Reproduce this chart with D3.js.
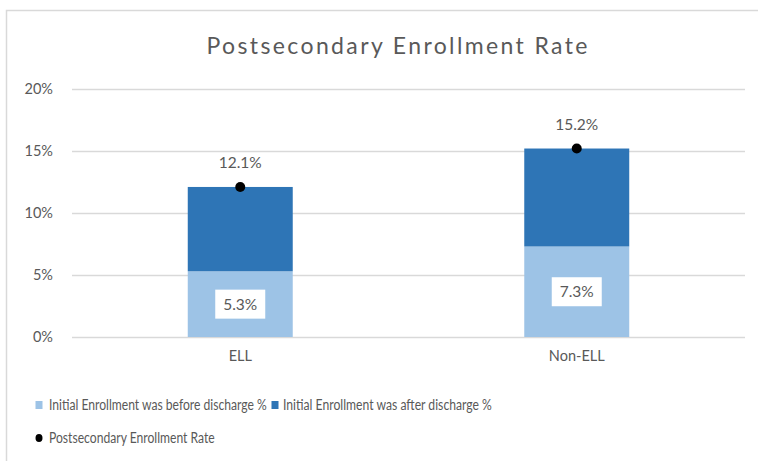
<!DOCTYPE html>
<html>
<head>
<meta charset="utf-8">
<script src="https://cdn.jsdelivr.net/npm/d3@7"></script>
<style>
  html, body { margin: 0; padding: 0; background: #fff; }
  svg { display: block; font-family: Lato, "Open Sans", sans-serif; }
</style>
</head>
<body>
<svg id="chart" width="758" height="461"></svg>
<script>
// Chart data
const categories = ["ELL", "Non-ELL"];
const beforeDischarge = [5.3, 7.3];   // Initial Enrollment was before discharge %
const afterDischarge = [6.8, 7.9];    // Initial Enrollment was after discharge %
const enrollmentRate = [12.1, 15.2];  // Postsecondary Enrollment Rate
const yTicks = [0, 5, 10, 15, 20];
const seriesNames = [
  "Initial Enrollment was before discharge %",
  "Initial Enrollment was after discharge %",
  "Postsecondary Enrollment Rate"
];

const colors = { before: "#9dc3e6", after: "#2e75b6", dot: "#000", text: "#595959", grid: "#d9d9d9" };

const svg = d3.select("#chart");

// outer frame (top and left edges visible)
svg.append("path")
  .attr("d", "M6.5,461 V10.5 H758")
  .attr("fill", "none").attr("stroke", "#d9d9d9").attr("stroke-width", 1.5);

const plot = { left: 72, right: 745, top: 89, bottom: 337 };

const x = d3.scaleBand().domain(categories).range([plot.left, plot.right])
  .paddingInner(0.688).paddingOuter(0.344);
const y = d3.scaleLinear().domain([0, 20]).range([plot.bottom, plot.top]);

// title
svg.append("text")
  .attr("x", 397).attr("y", 54)
  .attr("text-anchor", "middle")
  .attr("fill", colors.text)
  .attr("font-size", 23)
  .attr("textLength", 381)
  .attr("lengthAdjust", "spacing")
  .text("Postsecondary Enrollment Rate");

// gridlines + y axis labels
const yAxis = d3.axisLeft(y).tickValues(yTicks).tickFormat(d => d + "%")
  .tickSize(-(plot.right - plot.left)).tickPadding(19);
const gy = svg.append("g").attr("transform", `translate(${plot.left},0)`).call(yAxis);
gy.select(".domain").remove();
gy.selectAll(".tick line").attr("stroke", colors.grid).attr("stroke-width", 1.5);
gy.selectAll(".tick text").attr("fill", colors.text).attr("font-size", 14.5).attr("font-family", "Lato, sans-serif");

// x axis labels
const xAxis = d3.axisBottom(x).tickSize(0).tickPadding(14);
const gx = svg.append("g").attr("transform", `translate(0,${plot.bottom})`).call(xAxis);
gx.select(".domain").remove();
gx.selectAll(".tick text").attr("fill", colors.text).attr("font-size", 14.5).attr("font-family", "Lato, sans-serif");

// stacked bars
const rows = categories.map((c, i) => ({ c, before: beforeDischarge[i], after: afterDischarge[i], rate: enrollmentRate[i] }));
const stack = d3.stack().keys(["before", "after"])(rows);
const fills = [colors.before, colors.after];

stack.forEach((layer, li) => {
  svg.append("g").selectAll("rect").data(layer).join("rect")
    .attr("x", d => x(d.data.c))
    .attr("width", x.bandwidth())
    .attr("y", d => y(d[1]))
    .attr("height", d => y(d[0]) - y(d[1]))
    .attr("fill", fills[li]);
});

// labels inside the lower segment (white boxes)
const lower = stack[0];
const lbl = svg.append("g").selectAll("g").data(lower).join("g")
  .attr("transform", d => `translate(${x(d.data.c) + x.bandwidth() / 2},${(y(d[0]) + y(d[1])) / 2})`);
lbl.append("rect").attr("x", -25).attr("y", -14.5).attr("width", 50).attr("height", 29).attr("fill", "#fff");
lbl.append("text").attr("text-anchor", "middle").attr("dy", "0.36em")
  .attr("fill", colors.text).attr("font-size", 15.5)
  .text(d => d.data.before.toFixed(1) + "%");

// enrollment rate markers and labels
const pts = svg.append("g").selectAll("g").data(rows).join("g")
  .attr("transform", d => `translate(${x(d.c) + x.bandwidth() / 2},${y(d.rate)})`);
pts.append("circle").attr("r", 5).attr("fill", colors.dot);
pts.append("text").attr("text-anchor", "middle").attr("y", -19)
  .attr("fill", colors.text).attr("font-size", 15.5)
  .text(d => d.rate.toFixed(1) + "%");

// legend: labels keep their height and are condensed horizontally to fit their slot
const legendItems = [
  { name: seriesNames[0], kind: "rect", color: colors.before, mx: 39, tx: 49, y: 405, w: 218 },
  { name: seriesNames[1], kind: "rect", color: colors.after, mx: 275, tx: 283, y: 405, w: 209 },
  { name: seriesNames[2], kind: "dot", color: colors.dot, mx: 39, tx: 49, y: 438, w: 166 }
];
const legend = svg.append("g");
legendItems.forEach(it => {
  const g = legend.append("g").attr("transform", `translate(0,${it.y})`);
  if (it.kind === "rect") {
    g.append("rect").attr("x", it.mx - 3.5).attr("y", -4).attr("width", 7).attr("height", 8).attr("fill", it.color);
  } else {
    g.append("ellipse").attr("cx", it.mx).attr("rx", 3.5).attr("ry", 4).attr("fill", it.color);
  }
  const tg = g.append("g").attr("transform", `translate(${it.tx},0)`);
  const t = tg.append("text").attr("dy", "0.36em").attr("fill", colors.text)
    .attr("font-size", 15).text(it.name);
  const w = t.node().getComputedTextLength();
  const k = Math.min(1, it.w / w);
  tg.attr("transform", `translate(${it.tx},0) scale(${k.toFixed(4)},1)`);
});
</script>
</body>
</html>
